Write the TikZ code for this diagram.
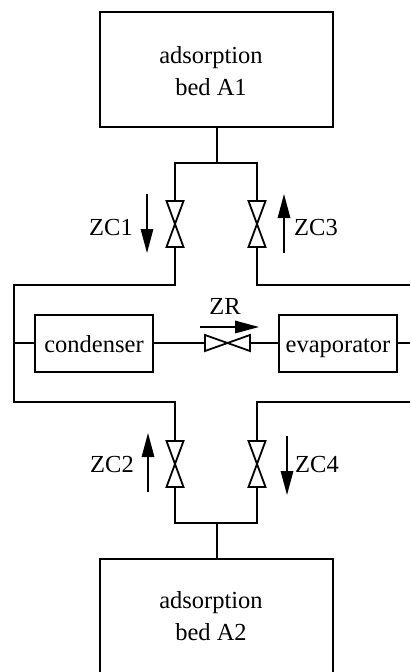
\documentclass[tikz,border=0pt]{standalone}
\usepackage{fontspec}
\setmainfont{Liberation Serif}
\usetikzlibrary{arrows.meta}
\tikzset{
  unit/.style={draw,line width=2pt,inner sep=0pt},
  oneline/.style={text height=22pt,text depth=4pt},
  valve/.style={inner sep=0pt,outer sep=0pt},
  flow/.style={line width=1.5pt,-{Triangle[length=24pt,width=12.5pt]}},
  pipe/.style={line width=1.8pt}
}
\begin{document}
\begin{tikzpicture}[x=1pt,y=-1pt,font=\fontsize{24.5}{32}\selectfont]
  \useasboundingbox (0,0) rectangle (410,672);
  \node[unit,minimum width=232.5pt,minimum height=115pt] (a1) at (216.7,69.5) {};
  \node[unit,minimum width=232.5pt,minimum height=118pt] (a2) at (216.7,618) {};
  \node[align=center] (lb1) at (211,71) {adsorption\\bed A1};
  \node[align=center] (lb2) at (211,616) {adsorption\\bed A2};
  \node[unit,oneline,minimum width=118.5pt,minimum height=57pt] (cond) at (94,343) {condenser};
  \node[unit,oneline,minimum width=118.5pt,minimum height=57pt] (evap) at (338,343) {evaporator};
  \node[valve,minimum width=17pt,minimum height=46pt] (zc1) at (175,224) {};
  \node[valve,minimum width=17pt,minimum height=46pt] (zc3) at (257,224) {};
  \node[valve,minimum width=17pt,minimum height=46pt] (zc2) at (175,464) {};
  \node[valve,minimum width=17pt,minimum height=46pt] (zc4) at (257,464) {};
  \node[valve,minimum width=45pt,minimum height=16pt] (zr) at (227.5,343) {};
  % pipe junctions
  \coordinate (top) at (216.7,163);
  \coordinate (bot) at (216.7,523);
  \coordinate (tl) at (175,163);
  \coordinate (tr) at (257,163);
  \coordinate (bl) at (175,523);
  \coordinate (br) at (257,523);
  \coordinate (ul) at (14,285);
  \coordinate (ur) at (410,285);
  \coordinate (ll) at (14,402);
  \coordinate (lr) at (410,402);
  \coordinate (ml) at (14,343);
  \coordinate (mr) at (410,343);
  \begin{scope}[pipe]
    \draw (a1.south) -- (top);
    \draw (a2.north) -- (bot);
    \draw (zc1.north) -- (tl) -- (tr) -- (zc3.north);
    \draw (zc2.south) -- (bl) -- (br) -- (zc4.south);
    \draw (zc1.south) |- (ul) -- (ll) -| (zc2.north);
    \draw (zc3.south) |- (ur);
    \draw (zc4.north) |- (lr);
    \draw (ml) -- (cond.west);
    \draw (cond.east) -- (zr.west);
    \draw (zr.east) -- (evap.west);
    \draw (evap.east) -- (mr);
    \foreach \v in {zc1,zc2,zc3,zc4}
      \draw (\v.north west) -- (\v.north east) -- (\v.south west) -- (\v.south east) -- cycle;
    \draw (zr.north west) -- (zr.south east) -- (zr.north east) -- (zr.south west) -- cycle;
  \end{scope}
  \coordinate (f1a) at (147,194);
  \coordinate (f1b) at (147,253);
  \coordinate (f3a) at (284,253);
  \coordinate (f3b) at (284,194);
  \coordinate (f2a) at (148,492);
  \coordinate (f2b) at (148,433);
  \coordinate (f4a) at (287,436);
  \coordinate (f4b) at (287,495);
  \coordinate (fra) at (200,327);
  \coordinate (frb) at (259,327);
  \draw[flow] (f1a) -- (f1b);
  \draw[flow] (f3a) -- (f3b);
  \draw[flow] (f2a) -- (f2b);
  \draw[flow] (f4a) -- (f4b);
  \draw[flow] (fra) -- (frb);
  \node (lc1) at (111,228) {ZC1};
  \node (lc3) at (316,228) {ZC3};
  \node (lc2) at (112,465) {ZC2};
  \node (lc4) at (317,465) {ZC4};
  \node (lzr) at (225,306) {ZR};
\end{tikzpicture}
\end{document}
